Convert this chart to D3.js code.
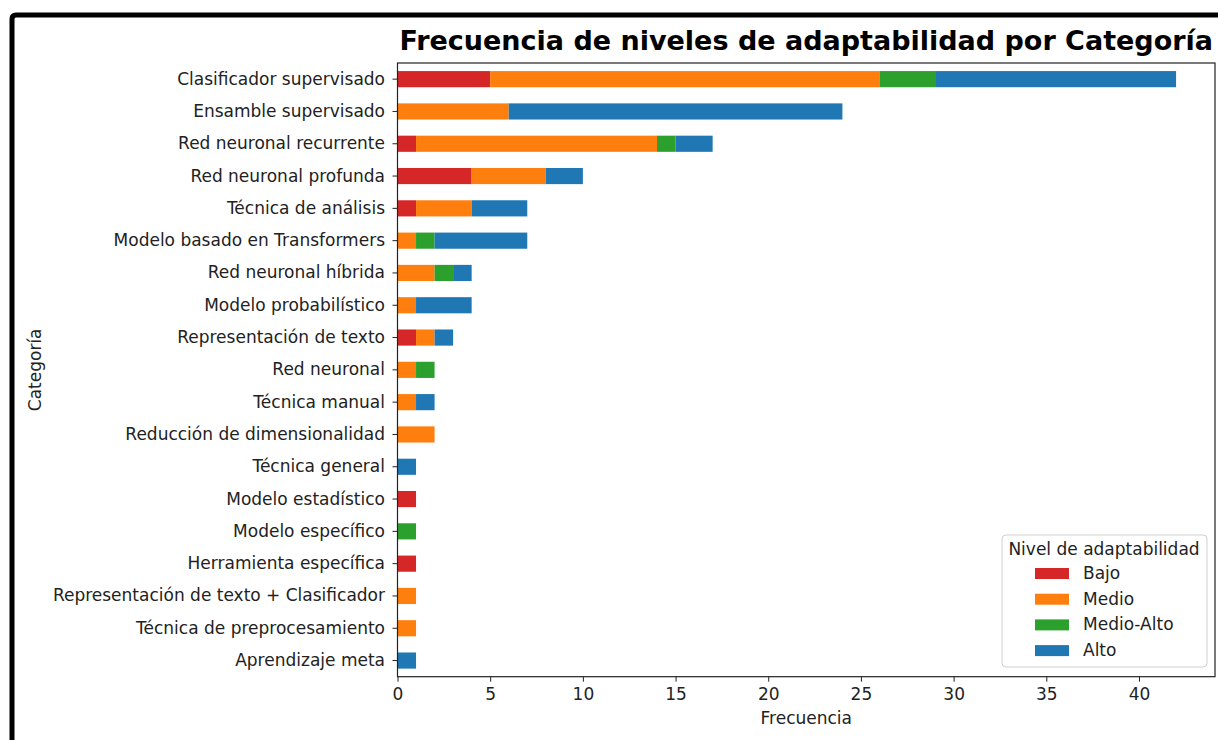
<!DOCTYPE html>
<html>
<head>
<meta charset="utf-8">
<script src="https://cdn.jsdelivr.net/npm/d3@7"></script>
<style>
  body { margin: 0; background: #fff; }
  svg { display: block; font-family: "DejaVu Sans", sans-serif; }
</style>
</head>
<body>
<div id="chart"></div>
<script>
// categories, top to bottom
var categories = [
    "Clasificador supervisado", "Ensamble supervisado", "Red neuronal recurrente",
    "Red neuronal profunda", "Técnica de análisis", "Modelo basado en Transformers",
    "Red neuronal híbrida", "Modelo probabilístico", "Representación de texto",
    "Red neuronal", "Técnica manual", "Reducción de dimensionalidad",
    "Técnica general", "Modelo estadístico", "Modelo específico",
    "Herramienta específica", "Representación de texto + Clasificador",
    "Técnica de preprocesamiento", "Aprendizaje meta"
];
var levels = ["Bajo", "Medio", "Medio-Alto", "Alto"];
var colors = ["#d62728", "#ff7f0e", "#2ca02c", "#1f77b4"];

var bajo      = [5, 0, 1, 4, 1, 0, 0, 0, 1, 0, 0, 0, 0, 1, 0, 1, 0, 0, 0];
var medio     = [21, 6, 13, 4, 3, 1, 2, 1, 1, 1, 1, 2, 0, 0, 0, 0, 1, 1, 0];
var medioAlto = [3, 0, 1, 0, 0, 1, 1, 0, 0, 1, 0, 0, 0, 0, 1, 0, 0, 0, 0];
var alto      = [13, 18, 2, 2, 3, 5, 1, 3, 1, 0, 1, 0, 1, 0, 0, 0, 0, 0, 1];
var xTicks = [0, 5, 10, 15, 20, 25, 30, 35, 40];

var width = 1218, height = 740;
var margin = {top: 63, right: 3, bottom: 63.3, left: 397.5};
var fs = 17;

var rows = categories.map(function (c, i) {
    return {cat: c, "Bajo": bajo[i], "Medio": medio[i], "Medio-Alto": medioAlto[i], "Alto": alto[i]};
});
var stacked = d3.stack().keys(levels)(rows);
var maxTotal = d3.max(rows, function (d) { return d.Bajo + d.Medio + d["Medio-Alto"] + d.Alto; });

var svg = d3.select("#chart").append("svg")
    .attr("width", width)
    .attr("height", height);

// black frame around the figure
svg.append("path")
    .attr("d", "M12,740 L12,19 Q12,15 16,15 L1218,15")
    .attr("fill", "none")
    .attr("stroke", "#000")
    .attr("stroke-width", 5);

var x = d3.scaleLinear()
    .domain([0, maxTotal * 1.05])
    .range([margin.left, width - margin.right]);

var y = d3.scaleBand()
    .domain(categories)
    .range([margin.top, height - margin.bottom])
    .paddingInner(0.5)
    .paddingOuter(0.25);

var g = svg.append("g");

g.selectAll("g.layer")
    .data(stacked)
    .enter().append("g")
    .attr("class", "layer")
    .attr("fill", function (d, i) { return colors[i]; })
    .selectAll("rect")
    .data(function (d) { return d.filter(function (s) { return s[1] > s[0]; }); })
    .enter().append("rect")
    .attr("x", function (d) { return x(d[0]); })
    .attr("y", function (d) { return y(d.data.cat); })
    .attr("width", function (d) { return x(d[1]) - x(d[0]); })
    .attr("height", y.bandwidth());

// axes
var xAxis = svg.append("g")
    .attr("transform", "translate(0," + (height - margin.bottom) + ")")
    .call(d3.axisBottom(x).tickValues(xTicks).tickSize(5).tickPadding(6.5));
var yAxis = svg.append("g")
    .attr("transform", "translate(" + margin.left + ",0)")
    .call(d3.axisLeft(y).tickSize(5).tickPadding(7.5));

[xAxis, yAxis].forEach(function (a) {
    a.select(".domain").remove();
    a.selectAll("text").attr("font-size", fs).attr("fill", "#222").attr("font-family", "DejaVu Sans");
    a.selectAll("line").attr("stroke", "#222");
});

// frame of the axes
svg.append("rect")
    .attr("x", margin.left)
    .attr("y", margin.top)
    .attr("width", width - margin.right - margin.left)
    .attr("height", height - margin.bottom - margin.top)
    .attr("fill", "none")
    .attr("stroke", "#222")
    .attr("stroke-width", 1.2);

// title and labels
svg.append("text")
    .attr("x", (margin.left + width - margin.right) / 2)
    .attr("y", 50)
    .attr("text-anchor", "middle")
    .attr("font-size", 27)
    .attr("font-weight", "bold")
    .text("Frecuencia de niveles de adaptabilidad por Categoría");

svg.append("text")
    .attr("x", (margin.left + width - margin.right) / 2)
    .attr("y", 724)
    .attr("text-anchor", "middle")
    .attr("font-size", fs)
    .attr("fill", "#222")
    .text("Frecuencia");

svg.append("text")
    .attr("transform", "translate(41," + ((margin.top + height - margin.bottom) / 2) + ") rotate(-90)")
    .attr("text-anchor", "middle")
    .attr("font-size", fs)
    .attr("fill", "#222")
    .text("Categoría");

// legend
var legend = svg.append("g").attr("transform", "translate(1002,535)");
legend.append("rect")
    .attr("width", 205)
    .attr("height", 132)
    .attr("rx", 4)
    .attr("fill", "#fff")
    .attr("fill-opacity", 0.8)
    .attr("stroke", "#d0d0d0");
legend.append("text")
    .attr("x", 102)
    .attr("y", 20)
    .attr("text-anchor", "middle")
    .attr("font-size", fs)
    .attr("fill", "#222")
    .text("Nivel de adaptabilidad");

var item = legend.selectAll("g.item")
    .data(levels)
    .enter().append("g")
    .attr("class", "item")
    .attr("transform", function (d, i) { return "translate(0," + (38 + i * 25.7) + ")"; });
item.append("rect")
    .attr("x", 33)
    .attr("y", -5)
    .attr("width", 34)
    .attr("height", 11)
    .attr("fill", function (d, i) { return colors[i]; });
item.append("text")
    .attr("x", 81)
    .attr("y", 6)
    .attr("font-size", fs)
    .attr("fill", "#222")
    .text(function (d) { return d; });
</script>
</body>
</html>
